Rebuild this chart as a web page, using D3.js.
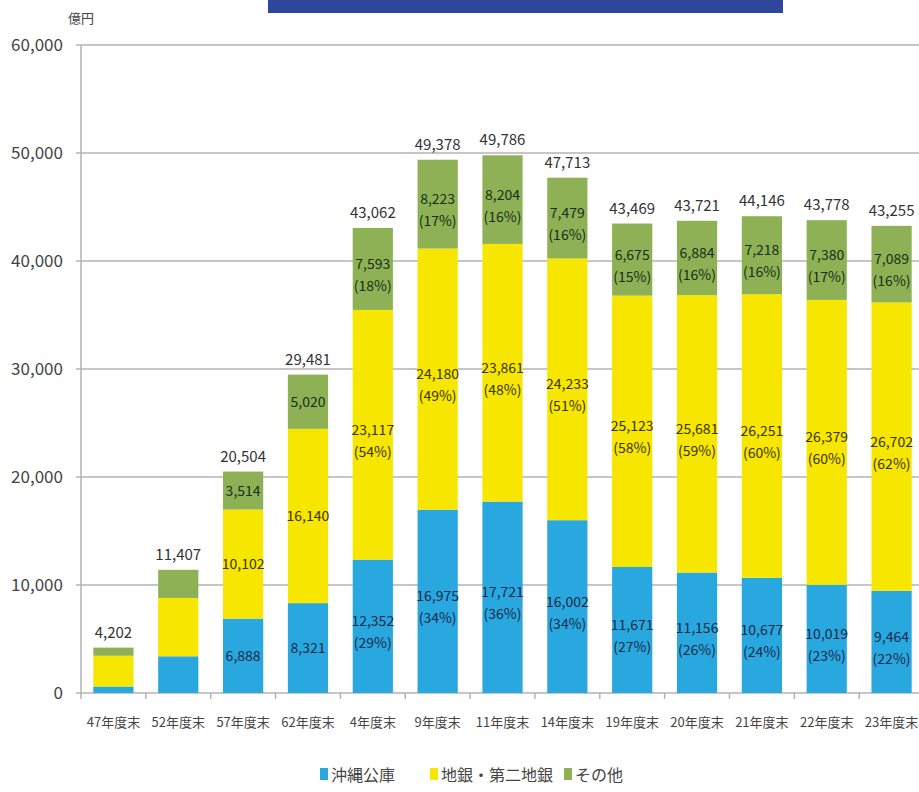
<!DOCTYPE html>
<html>
<head>
<meta charset="utf-8">
<script src="https://cdn.jsdelivr.net/npm/d3@7"></script>
<style>
body { margin:0; background:#fff; }
text { font-family: "Liberation Sans Narrow", "Noto Sans CJK JP", sans-serif; }
</style>
</head>
<body>
<div id="graph"></div>
<script>
var categories = ['47年度末','52年度末','57年度末','62年度末','4年度末','9年度末','11年度末','14年度末','19年度末','20年度末','21年度末','22年度末','23年度末']
var koko = [600, 3400, 6888, 8321, 12352, 16975, 17721, 16002, 11671, 11156, 10677, 10019, 9464]
var chigin = [2850, 5400, 10102, 16140, 23117, 24180, 23861, 24233, 25123, 25681, 26251, 26379, 26702]
var sonota = [752, 2607, 3514, 5020, 7593, 8223, 8204, 7479, 6675, 6884, 7218, 7380, 7089]
var totals = [4202, 11407, 20504, 29481, 43062, 49378, 49786, 47713, 43469, 43721, 44146, 43778, 43255]
var kokoPct = [null, null, null, null, 29, 34, 36, 34, 27, 26, 24, 23, 22]
var chiginPct = [null, null, null, null, 54, 49, 48, 51, 58, 59, 60, 60, 62]
var sonotaPct = [null, null, null, null, 18, 17, 16, 16, 15, 16, 16, 17, 16]
var showValue = [false, false, true, true, true, true, true, true, true, true, true, true, true]
var seriesNames = ['沖縄公庫', '地銀・第二地銀', 'その他']
var yTicks = [0, 10000, 20000, 30000, 40000, 50000, 60000]

var colors = ['#29a8df', '#f6e600', '#8fb155']
var labelColors = ['#16294a', '#3a3400', '#172e15']

var width = 919, height = 792
var svg = d3.select('#graph').append('svg')
	.attr('width', width)
	.attr('height', height)

// banner at top (cut off in the reference)
svg.append('rect')
	.attr('x', 268).attr('y', 0)
	.attr('width', 515).attr('height', 13)
	.attr('fill', '#2e479c')

var x = d3.scaleBand()
	.domain(categories)
	.range([81, 924])
	.paddingInner(0.38)
	.paddingOuter(0.19)

var y = d3.scaleLinear()
	.domain([0, 60000])
	.range([693, 45])

// gridlines
svg.append('g').selectAll('line')
	.data(yTicks)
	.enter().append('line')
	.attr('x1', 76).attr('x2', width)
	.attr('y1', function(d) { return y(d) })
	.attr('y2', function(d) { return y(d) })
	.attr('stroke', '#b3b3b3')
	.attr('stroke-width', 1.5)

svg.append('line')
	.attr('x1', 81).attr('x2', 81)
	.attr('y1', y(60000)).attr('y2', y(0))
	.attr('stroke', '#b3b3b3')
	.attr('stroke-width', 1.5)

// y tick labels
svg.append('g').selectAll('text')
	.data(yTicks)
	.enter().append('text')
	.attr('x', 63)
	.attr('y', function(d) { return y(d) + 6 })
	.attr('text-anchor', 'end')
	.attr('font-size', 17)
	.attr('fill', '#444')
	.text(function(d) { return d3.format(',')(d) })

svg.append('text')
	.attr('x', 68).attr('y', 23)
	.attr('font-size', 13)
	.attr('fill', '#444')
	.text('億円')

var rows = categories.map(function(c, i) {
	return { cat: c, koko: koko[i], chigin: chigin[i], sonota: sonota[i] }
})
var stack = d3.stack().keys(['koko', 'chigin', 'sonota'])(rows)
var pcts = [kokoPct, chiginPct, sonotaPct]

stack.forEach(function(layer, si) {
	var g = svg.append('g')
	g.selectAll('rect')
		.data(layer)
		.enter().append('rect')
		.attr('x', function(d) { return x(d.data.cat) })
		.attr('width', x.bandwidth())
		.attr('y', function(d) { return y(d[1]) })
		.attr('height', function(d) { return y(d[0]) - y(d[1]) })
		.attr('fill', colors[si])

	layer.forEach(function(d, i) {
		if (!showValue[i]) return
		var cx = x(d.data.cat) + x.bandwidth() / 2
		var cy = (y(d[0]) + y(d[1])) / 2
		var p = pcts[si][i]
		var t = g.append('text')
			.attr('x', cx)
			.attr('text-anchor', 'middle')
			.attr('font-size', 14)
			.attr('fill', labelColors[si])
		if (p == null) {
			t.attr('y', cy + 5).text(d3.format(',')(d[1] - d[0]))
		} else {
			t.attr('y', cy).text(d3.format(',')(d[1] - d[0]))
			g.append('text')
				.attr('x', cx)
				.attr('y', cy + 22)
				.attr('text-anchor', 'middle')
				.attr('font-size', 14)
				.attr('fill', labelColors[si])
				.text('(' + p + '%)')
		}
	})
})

// totals
svg.append('g').selectAll('text')
	.data(categories)
	.enter().append('text')
	.attr('x', function(d) { return x(d) + x.bandwidth() / 2 })
	.attr('y', function(d, i) { return y(totals[i]) - 10 })
	.attr('text-anchor', 'middle')
	.attr('font-size', 15)
	.attr('fill', '#333')
	.text(function(d, i) { return d3.format(',')(totals[i]) })

// x axis
var xAxis = svg.append('g')
	.attr('transform', 'translate(0,' + y(0) + ')')
var step = x.step()
xAxis.selectAll('line')
	.data(d3.range(categories.length + 1))
	.enter().append('line')
	.attr('x1', function(i) { return 81 + i * step })
	.attr('x2', function(i) { return 81 + i * step })
	.attr('y1', 0).attr('y2', 6)
	.attr('stroke', '#b3b3b3')
	.attr('stroke-width', 1.5)
xAxis.selectAll('text')
	.data(categories)
	.enter().append('text')
	.attr('x', function(d) { return x(d) + x.bandwidth() / 2 })
	.attr('y', 34)
	.attr('text-anchor', 'middle')
	.attr('font-size', 13)
	.attr('fill', '#444')
	.text(function(d) { return d })

// legend
var legendX = [320, 430, 564]
var legend = svg.append('g')
seriesNames.forEach(function(name, i) {
	legend.append('rect')
		.attr('x', legendX[i]).attr('y', 768)
		.attr('width', 8).attr('height', 12)
		.attr('fill', colors[i])
	legend.append('text')
		.attr('x', legendX[i] + 11).attr('y', 781)
		.attr('font-size', 16)
		.attr('fill', '#444')
		.text(name)
})
</script>
</body>
</html>
